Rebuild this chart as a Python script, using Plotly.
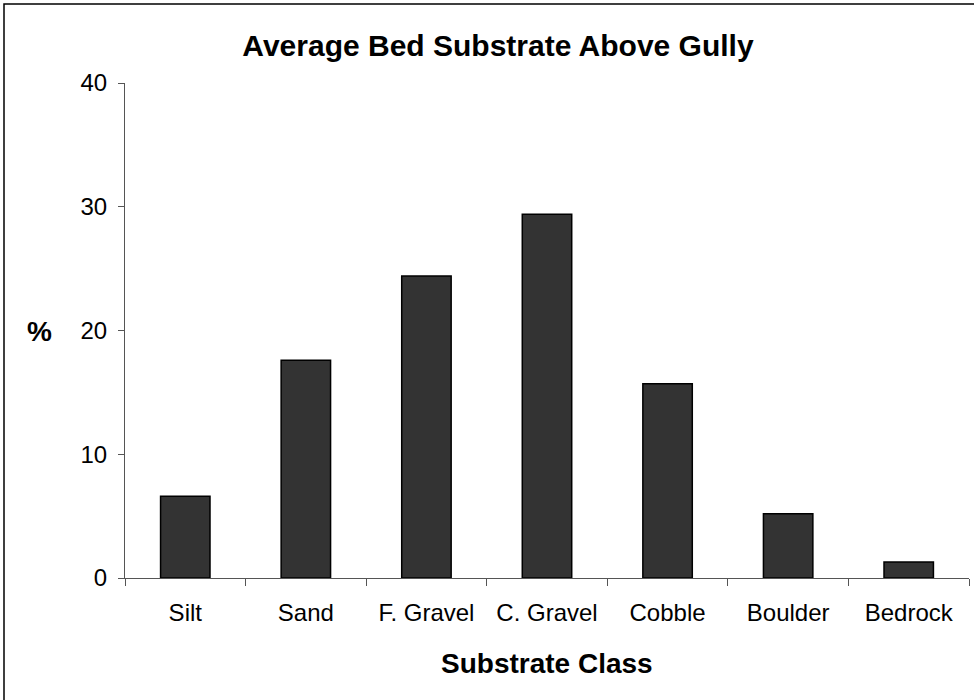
import plotly.graph_objects as go

categories = ["Silt", "Sand", "F. Gravel", "C. Gravel", "Cobble", "Boulder", "Bedrock"]
percent = [6.6, 17.6, 24.4, 29.4, 15.7, 5.2, 1.3]
y_ticks = [0, 10, 20, 30, 40]

W, H = 974, 700
L, R, T, B = 125, 5, 83, 122
pw, ph = W - L - R, H - T - B

fig = go.Figure(go.Bar(
    x=categories, y=percent,
    marker=dict(color="#333333", line=dict(color="#000000", width=1.5)),
    width=0.41,
))

font = "Liberation Sans, Arial, sans-serif"
fig.update_layout(
    width=W, height=H,
    margin=dict(l=L, r=R, t=T, b=B),
    paper_bgcolor="white", plot_bgcolor="white",
    showlegend=False,
    font=dict(family=font, color="black"),
    title=dict(text="<b>Average Bed Substrate Above Gully</b>", x=498 / W, xref="container",
               xanchor="center", y=1 - 45 / H, yref="container", yanchor="middle",
               font=dict(size=30, family=font, color="black")),
    xaxis=dict(showline=True, linecolor="#555555", linewidth=1, ticks="outside",
               tickson="boundaries", ticklen=7, tickcolor="#555555",
               tickfont=dict(size=24, family=font), showgrid=False,
               ticklabelstandoff=13),
    yaxis=dict(range=[0, 40], tickvals=y_ticks, showline=True, linecolor="#555555", linewidth=1,
               ticks="outside", ticklen=6, tickcolor="#555555", showgrid=False, zeroline=False,
               tickfont=dict(size=24, family=font), ticklabelstandoff=6),
)

fig.add_annotation(text="<b>%</b>", xref="paper", yref="paper",
                   x=(39 - L) / pw, y=(H - B - 331) / ph, showarrow=False,
                   xanchor="center", yanchor="middle",
                   font=dict(size=28, family=font, color="black"))

fig.add_annotation(text="<b>Substrate Class</b>", xref="paper", yref="paper",
                   x=0.5, y=(H - B - 663) / ph, showarrow=False,
                   xanchor="center", yanchor="middle",
                   font=dict(size=28, family=font, color="black"))

# outer frame (only left and top edges fall inside the image)
fig.add_shape(type="rect", xref="paper", yref="paper",
              x0=(4 - L) / pw, x1=(990 - L) / pw,
              y0=(H - B - 720) / ph, y1=(H - B - 4) / ph,
              line=dict(color="black", width=1.5), fillcolor="rgba(0,0,0,0)")

fig.write_html("out.html", config={"displayModeBar": False},
               post_script="document.body.style.margin='0';document.body.style.overflow='hidden';")
